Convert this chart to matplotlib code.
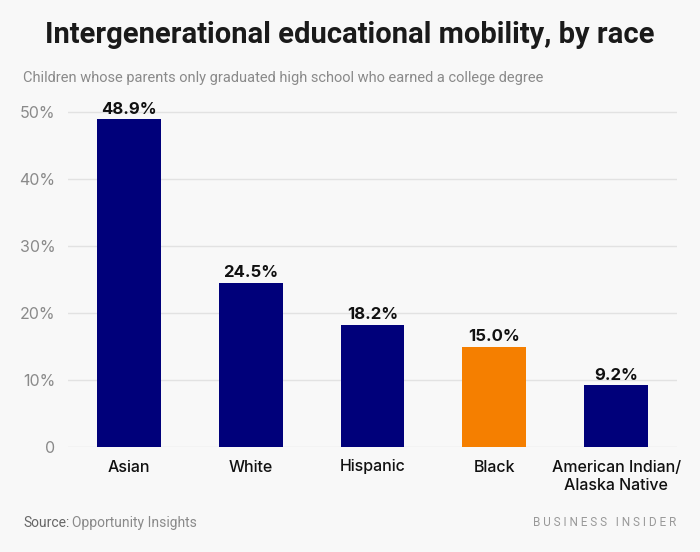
import matplotlib.pyplot as plt

groups = ["Asian", "White", "Hispanic", "Black", "American Indian/\nAlaska Native"]
shares = [48.9, 24.5, 18.2, 15.0, 9.2]
highlight = "Black"
yticks = [0, 10, 20, 30, 40, 50]
ytick_labels = ["0", "10%", "20%", "30%", "40%", "50%"]

bg = "#f8f8f8"
navy = "#00007a"
orange = "#f57f00"

fig = plt.figure(figsize=(7, 5.52), dpi=100, facecolor=bg)
ax = fig.add_axes([68 / 700, 105 / 552, 609 / 700, 345 / 552], facecolor=bg)

colors = [orange if g == highlight else navy for g in groups]
x = range(len(groups))
bars = ax.bar(x, shares, width=0.525, color=colors, zorder=3)

for b, v in zip(bars, shares):
    ax.text(b.get_x() + b.get_width() / 2, v + 0.4, f"{v:.1f}%", ha="center", va="bottom",
            fontsize=12, fontweight="bold", family="Inter", color="#111111")

ax.set_xlim(-0.5, 4.5)
ax.set_ylim(0, 51.5)
ax.set_yticks(yticks)
ax.set_yticklabels(ytick_labels, family="Inter", fontsize=11.5, color="#8a8a8a")
ax.set_xticks(list(x))
ax.set_xticklabels(groups, family="Inter", fontsize=11.5, fontweight=500, color="#111111",
                   linespacing=1.25)
ax.grid(axis="y", color="#e2e2e2", linewidth=1, zorder=0)
ax.tick_params(axis="both", length=0)
ax.tick_params(axis="y", pad=9)
ax.tick_params(axis="x", pad=9)
for s in ax.spines.values():
    s.set_visible(False)

fig.text(0.5, 1 - 35 / 552, "Intergenerational educational mobility, by race", ha="center", va="center",
         fontsize=21, fontweight="bold", family="Roboto", color="#1a1a1a")
fig.text(23 / 700, 1 - 78 / 552, "Children whose parents only graduated high school who earned a college degree",
         ha="left", va="center", fontsize=10.5, family="Roboto", color="#8a8a8a")
fig.text(23 / 700, 1 - 523 / 552, "Source:", ha="left", va="center", fontsize=10, family="Roboto",
         color="#666666")
fig.text(72 / 700, 1 - 523 / 552, "Opportunity Insights", ha="left", va="center", fontsize=10,
         family="Roboto", color="#8a8a8a")
fig.text(676 / 700, 1 - 523 / 552, "B U S I N E S S   I N S I D E R", ha="right", va="center",
         fontsize=8.5, family="Roboto", color="#999999")

fig.savefig("out.png", dpi=100, facecolor=bg)
